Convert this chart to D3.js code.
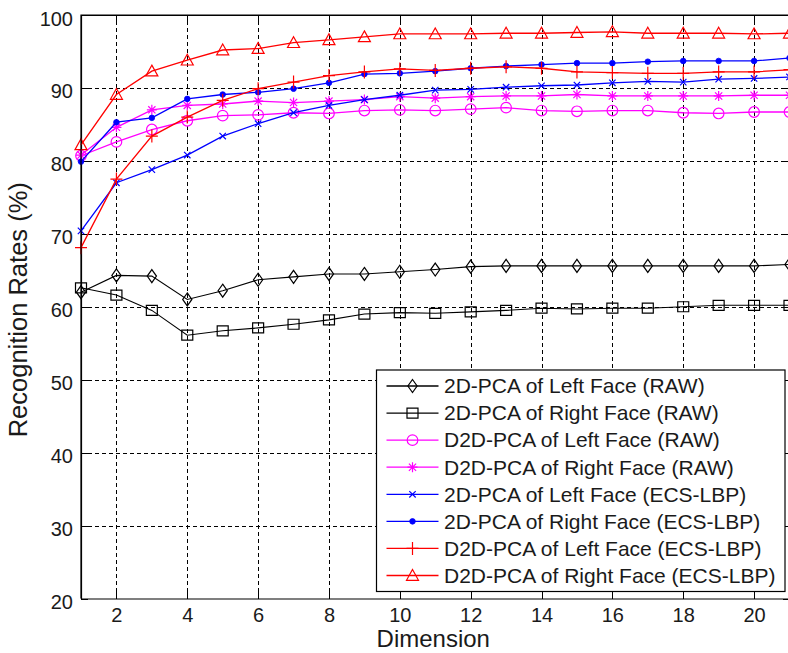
<!DOCTYPE html>
<html>
<head>
<meta charset="utf-8">
<script src="https://cdn.jsdelivr.net/npm/d3@7"></script>
<style>
  html, body { margin: 0; padding: 0; background: #fff; }
  svg { display: block; }
  text { font-family: "Liberation Sans", Arial, Helvetica, sans-serif; fill: #1a1a1a; }
</style>
</head>
<body>
<svg id="chart" width="788" height="653"></svg>
<script>
// Recognition rate (%) versus projection dimension
const dimensions = [1, 2, 3, 4, 5, 6, 7, 8, 9, 10, 11, 12, 13, 14, 15, 16, 17, 18, 19, 20, 21];

const pca2dLeftRaw   = [62.0, 64.3, 64.2, 61.0, 62.2, 63.7, 64.1, 64.5, 64.5, 64.8, 65.1, 65.5, 65.6, 65.6, 65.6, 65.6, 65.6, 65.6, 65.6, 65.6, 65.8];
const pca2dRightRaw  = [62.6, 61.6, 59.5, 56.1, 56.7, 57.1, 57.6, 58.2, 59.0, 59.2, 59.1, 59.3, 59.5, 59.8, 59.7, 59.8, 59.8, 60.0, 60.2, 60.2, 60.2];
const d2dLeftRaw     = [80.7, 82.6, 84.3, 85.5, 86.2, 86.3, 86.6, 86.5, 86.9, 87.0, 86.9, 87.1, 87.3, 86.9, 86.8, 86.9, 86.9, 86.6, 86.5, 86.7, 86.7];
const d2dRightRaw    = [80.8, 84.6, 87.0, 87.6, 87.8, 88.2, 88.0, 88.2, 88.4, 88.8, 88.6, 88.8, 88.9, 88.9, 89.1, 88.9, 88.9, 88.9, 88.9, 89.0, 89.0];
const pca2dLeftLbp   = [70.4, 77.0, 78.8, 80.8, 83.4, 85.1, 86.6, 87.6, 88.4, 89.0, 89.7, 89.8, 90.1, 90.3, 90.4, 90.7, 90.9, 90.8, 91.2, 91.3, 91.5];
const pca2dRightLbp  = [79.9, 85.3, 85.9, 88.5, 89.1, 89.4, 89.9, 90.7, 91.9, 92.0, 92.3, 92.7, 93.0, 93.2, 93.4, 93.4, 93.6, 93.7, 93.7, 93.7, 94.1];
const d2dLeftLbp     = [68.1, 77.5, 83.4, 86.0, 88.3, 89.9, 90.8, 91.7, 92.2, 92.6, 92.4, 92.7, 92.9, 92.7, 92.2, 92.1, 92.0, 92.0, 92.2, 92.2, 92.5];
const d2dRightLbp    = [82.2, 89.1, 92.3, 93.8, 95.2, 95.4, 96.2, 96.6, 97.0, 97.4, 97.4, 97.4, 97.5, 97.5, 97.6, 97.7, 97.5, 97.5, 97.5, 97.4, 97.5];

const seriesNames = [
  "2D-PCA of Left Face (RAW)",
  "2D-PCA of Right Face (RAW)",
  "D2D-PCA of Left Face (RAW)",
  "D2D-PCA of Right Face (RAW)",
  "2D-PCA of Left Face (ECS-LBP)",
  "2D-PCA of Right Face (ECS-LBP)",
  "D2D-PCA of Left Face (ECS-LBP)",
  "D2D-PCA of Right Face (ECS-LBP)"
];
const seriesValues = [pca2dLeftRaw, pca2dRightRaw, d2dLeftRaw, d2dRightRaw,
                      pca2dLeftLbp, pca2dRightLbp, d2dLeftLbp, d2dRightLbp];
const seriesColors = ["#000000", "#000000", "#ff00ff", "#ff00ff",
                      "#0000ff", "#0000ff", "#ff0000", "#ff0000"];
const seriesMarkers = ["diamond", "square", "circle", "asterisk", "cross", "dot", "plus", "triangle"];

const xTicks = [2, 4, 6, 8, 10, 12, 14, 16, 18, 20];
const yTicks = [20, 30, 40, 50, 60, 70, 80, 90, 100];
const yGridTicks = [30, 40, 50, 60, 70, 80, 90];

// Plot frame
const frame = { left: 81, right: 789.5, top: 15, bottom: 598.5 };

const svg = d3.select("#chart");
const x = d3.scaleLinear().domain([1, 21]).range([frame.left, frame.right]);
const y = d3.scaleLinear().domain([20, 100]).range([frame.bottom, frame.top]);

// Dashed grid
const grid = svg.append("g").attr("class", "grid");
grid.append("g")
  .attr("transform", `translate(0,${frame.bottom})`)
  .call(d3.axisBottom(x).tickValues(xTicks).tickSize(-(frame.bottom - frame.top)).tickFormat(""))
  .call(g => g.select(".domain").remove());
grid.append("g")
  .attr("transform", `translate(${frame.left},0)`)
  .call(d3.axisLeft(y).tickValues(yGridTicks).tickSize(-(frame.right - frame.left)).tickFormat(""))
  .call(g => g.select(".domain").remove());
grid.selectAll("line")
  .attr("stroke", "#000")
  .attr("stroke-width", 1)
  .attr("stroke-dasharray", "4,3")
  .attr("shape-rendering", "crispEdges");

// Axes with inward ticks
const axisFont = 20;
const bottomAxis = svg.append("g")
  .attr("transform", `translate(0,${frame.bottom})`)
  .call(d3.axisBottom(x).tickValues(xTicks).tickSize(-7).tickPadding(9).tickSizeOuter(0));
const topAxis = svg.append("g")
  .attr("transform", `translate(0,${frame.top})`)
  .call(d3.axisTop(x).tickValues(xTicks).tickSize(-7).tickFormat("").tickSizeOuter(0));
const leftAxis = svg.append("g")
  .attr("transform", `translate(${frame.left},0)`)
  .call(d3.axisLeft(y).tickValues(yTicks).tickSize(-7).tickPadding(8).tickSizeOuter(0));
const rightAxis = svg.append("g")
  .attr("transform", `translate(${frame.right},0)`)
  .call(d3.axisRight(y).tickValues(yTicks).tickSize(-7).tickFormat("").tickSizeOuter(0));

[bottomAxis, topAxis, leftAxis, rightAxis].forEach(a => {
  a.selectAll("path.domain").attr("stroke", "#000").attr("stroke-width", 1.2);
  a.selectAll(".tick line").attr("stroke", "#000").attr("stroke-width", 1).attr("shape-rendering", "crispEdges");
  a.selectAll("text")
    .attr("font-size", axisFont)
    .attr("font-family", "'Liberation Sans', Arial, sans-serif")
    .attr("fill", "#1a1a1a");
});
leftAxis.selectAll("text").attr("dy", "0.5em");

// Axis titles
svg.append("text")
  .attr("x", (frame.left + frame.right) / 2 - 2)
  .attr("y", 647)
  .attr("text-anchor", "middle")
  .attr("font-size", 24)
  .text("Dimension");
svg.append("text")
  .attr("transform", `translate(27,${(frame.top + frame.bottom) / 2 + 3}) rotate(-90)`)
  .attr("text-anchor", "middle")
  .attr("font-size", 25.5)
  .text("Recognition Rates (%)");

// Marker shapes
function markerPath(kind) {
  switch (kind) {
    case "diamond":  return "M0,-6.5L4.6,0L0,6.5L-4.6,0Z";
    case "square":   return "M-5.5,-5H5.5V5H-5.5Z";
    case "asterisk": return "M-5,0H5M0,-5V5M-3.6,-3.6L3.6,3.6M-3.6,3.6L3.6,-3.6";
    case "cross":    return "M-3.2,-3.2L3.2,3.2M-3.2,3.2L3.2,-3.2";
    case "plus":     return "M-6,0H6M0,-6.5V6.5";
    case "triangle": return "M0,-6L6,4.8H-6Z";
    default:         return null;
  }
}
function drawMarker(g, kind, color) {
  if (kind === "circle") {
    g.append("circle").attr("r", 5.3).attr("fill", "none").attr("stroke", color).attr("stroke-width", 1.2);
  } else if (kind === "dot") {
    g.append("circle").attr("r", 2.8).attr("fill", color).attr("stroke", color).attr("stroke-width", 0.8);
  } else {
    g.append("path").attr("d", markerPath(kind)).attr("fill", "none").attr("stroke", color).attr("stroke-width", 1.2);
  }
}

// Series lines and markers
const line = d3.line().x((d, i) => x(dimensions[i])).y(d => y(d));
const plot = svg.append("g").attr("class", "series");
seriesValues.forEach((vals, k) => {
  const color = seriesColors[k];
  const g = plot.append("g");
  g.append("path")
    .attr("d", line(vals))
    .attr("fill", "none")
    .attr("stroke", color)
    .attr("stroke-width", k < 2 ? 1.1 : 1.3);
  vals.forEach((v, i) => {
    const m = g.append("g").attr("transform", `translate(${x(dimensions[i])},${y(v)})`);
    drawMarker(m, seriesMarkers[k], color);
  });
});

// Legend (south-east)
const legendBox = { left: 376.5, right: 785, top: 370, bottom: 591.5 };
const legend = svg.append("g").attr("class", "legend");
legend.append("rect")
  .attr("x", legendBox.left).attr("y", legendBox.top)
  .attr("width", legendBox.right - legendBox.left)
  .attr("height", legendBox.bottom - legendBox.top)
  .attr("fill", "#fff").attr("stroke", "#000").attr("stroke-width", 1.2);
const rowStep = (legendBox.bottom - legendBox.top - 32) / (seriesNames.length - 1);
seriesNames.forEach((name, k) => {
  const cy = legendBox.top + 16 + k * rowStep;
  const color = seriesColors[k];
  legend.append("line")
    .attr("x1", legendBox.left + 10).attr("x2", legendBox.left + 62)
    .attr("y1", cy).attr("y2", cy)
    .attr("stroke", color).attr("stroke-width", 1.3);
  const m = legend.append("g").attr("transform", `translate(${legendBox.left + 36},${cy})`);
  drawMarker(m, seriesMarkers[k], color);
  legend.append("text")
    .attr("x", legendBox.left + 67.5)
    .attr("y", cy + 7.3)
    .attr("font-size", 21)
    .text(name);
});

// Frame lines drawn over the series
svg.append("path")
  .attr("d", `M${frame.left},${frame.bottom}V${frame.top}H${frame.right}`)
  .attr("fill", "none").attr("stroke", "#000").attr("stroke-width", 1.2);
</script>
</body>
</html>
